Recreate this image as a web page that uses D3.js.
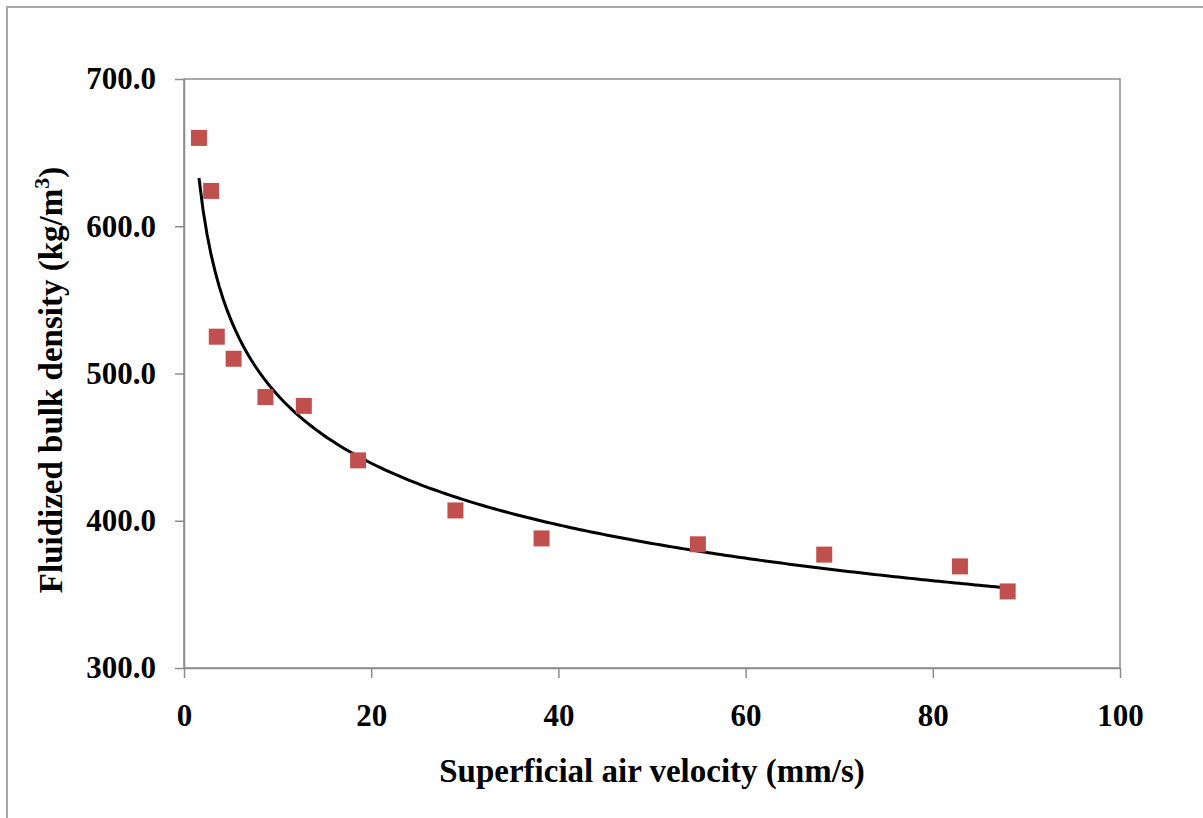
<!DOCTYPE html>
<html>
<head>
<meta charset="utf-8">
<script src="https://cdn.jsdelivr.net/npm/d3@7"></script>
<style>
  body { margin: 0; background: #fff; }
  svg text { font-family: "Liberation Serif", "Times New Roman", serif; font-weight: bold; fill: #000; }
</style>
</head>
<body>
<svg id="chart" width="1203" height="818"></svg>
<script>
// measured points: superficial air velocity (mm/s) vs fluidized bulk density (kg/m3)
const velocity = [1.6, 2.9, 3.5, 5.3, 8.7, 12.8, 18.6, 29.0, 38.2, 54.9, 68.4, 82.9, 88.0];
const density  = [660, 624, 525, 510, 484, 478, 441, 407, 388, 384, 377, 369, 352];
const xTicks = [0, 20, 40, 60, 80, 100];
const yTicks = [300, 400, 500, 600, 700];

const svg = d3.select("#chart");
const plotLeft = 184, plotRight = 1120, plotTop = 79, plotBottom = 668;

// outer chart frame (only top and left are inside the window)
svg.append("path")
   .attr("d", "M 7 830 L 7 7 L 1215 7")
   .attr("fill", "none")
   .attr("stroke", "#a6a6a6")
   .attr("stroke-width", 2);

let xScale = d3.scaleLinear().domain([0, 100]).range([plotLeft, plotRight]);
let yScale = d3.scaleLinear().domain([300, 700]).range([plotBottom, plotTop]);

// plot area border
svg.append("rect")
   .attr("x", plotLeft).attr("y", plotTop)
   .attr("width", plotRight - plotLeft).attr("height", plotBottom - plotTop)
   .attr("fill", "none")
   .attr("stroke", "#8c8c8c")
   .attr("stroke-width", 1.5);

let xAxis = d3.axisBottom(xScale).tickValues(xTicks).tickSize(10).tickSizeOuter(0).tickPadding(26);
let gx = svg.append("g").attr("transform", "translate(0," + plotBottom + ")").call(xAxis);
gx.select(".domain").attr("stroke", "#8c8c8c").attr("stroke-width", 1.5);
gx.selectAll(".tick line").attr("stroke", "#8c8c8c").attr("stroke-width", 1.5);
gx.selectAll("text").attr("font-size", 31).attr("fill", "#000").attr("font-family", null);

let yAxis = d3.axisLeft(yScale).tickValues(yTicks).tickFormat(d3.format(".1f")).tickSize(9).tickSizeOuter(0).tickPadding(19);
let gy = svg.append("g").attr("transform", "translate(" + plotLeft + ",0)").call(yAxis);
gy.select(".domain").attr("stroke", "#8c8c8c").attr("stroke-width", 1.5);
gy.selectAll(".tick line").attr("stroke", "#8c8c8c").attr("stroke-width", 1.5);
gy.selectAll("text").attr("font-size", 31).attr("fill", "#000").attr("font-family", null);

// power trend line fitted to the points (least squares in log-log space)
let lx = velocity.map(Math.log), ly = density.map(Math.log);
let mx = d3.mean(lx), my = d3.mean(ly);
let b = d3.sum(lx, (v, i) => (v - mx) * (ly[i] - my)) / d3.sum(lx, v => (v - mx) * (v - mx));
let a = Math.exp(my - b * mx);
let xs = d3.range(0, 201).map(i => velocity[0] + (velocity[velocity.length - 1] - velocity[0]) * i / 200);
let line = d3.line().x(d => xScale(d)).y(d => yScale(a * Math.pow(d, b)));
svg.append("path")
   .datum(xs)
   .attr("d", line)
   .attr("fill", "none")
   .attr("stroke", "#000")
   .attr("stroke-width", 3);

// data markers
svg.append("g").selectAll("rect")
   .data(velocity)
   .enter().append("rect")
   .attr("x", (d) => xScale(d) - 8)
   .attr("y", (d, i) => yScale(density[i]) - 8)
   .attr("width", 16)
   .attr("height", 16)
   .attr("fill", "#c0504d");

// axis titles
svg.append("text")
   .attr("x", 652).attr("y", 782)
   .attr("text-anchor", "middle")
   .attr("font-size", 33)
   .text("Superficial air velocity (mm/s)");

let yt = svg.append("text")
   .attr("transform", "translate(62,380) rotate(-90)")
   .attr("text-anchor", "middle")
   .attr("font-size", 33);
yt.append("tspan").text("Fluidized bulk density (kg/m");
yt.append("tspan").attr("font-size", 22).attr("dy", -13).text("3");
yt.append("tspan").attr("dy", 13).text(")");
</script>
</body>
</html>
